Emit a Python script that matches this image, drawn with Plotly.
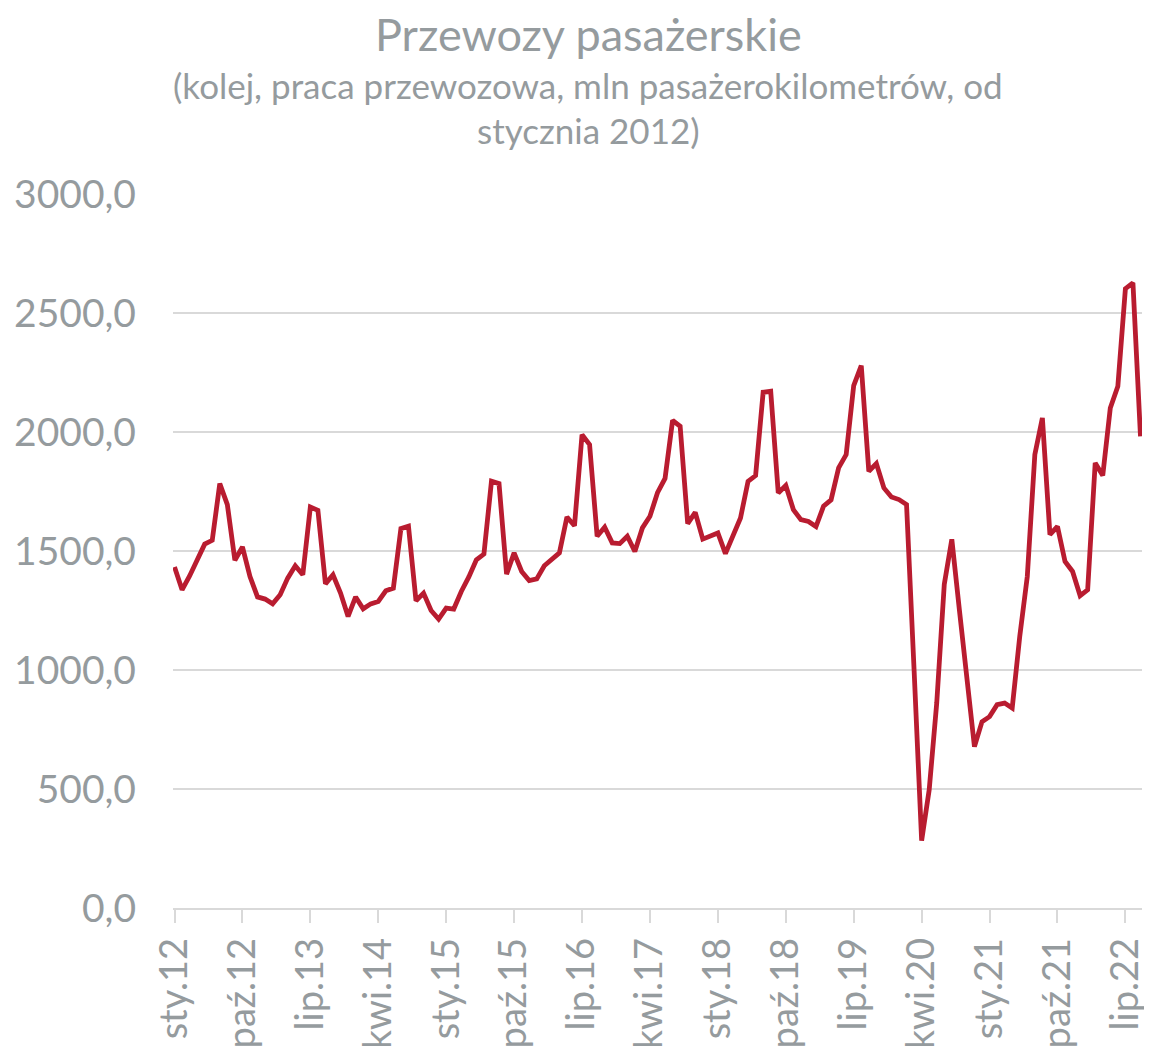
import plotly.graph_objects as go

# Polish month abbreviations (Excel style)
month_abbr = ["sty", "lut", "mar", "kwi", "maj", "cze", "lip", "sie", "wrz", "paź", "lis", "gru"]
years = list(range(12, 23))
categories = [f"{m}.{y:02d}" for y in years for m in month_abbr][:129]  # sty.12 .. wrz.22

# mln passenger-km, monthly from January 2012
values = [
    1433, 1337, 1395, 1459, 1529, 1545, 1783, 1695, 1461, 1517, 1393, 1307,   # 2012
    1298, 1278, 1316, 1386, 1438, 1400, 1685, 1671, 1362, 1400, 1323, 1225,   # 2013
    1307, 1257, 1278, 1288, 1333, 1344, 1594, 1604, 1291, 1323, 1250, 1214,   # 2014
    1260, 1256, 1330, 1391, 1463, 1487, 1793, 1783, 1403, 1492, 1414, 1376,   # 2015
    1383, 1438, 1466, 1492, 1643, 1606, 1989, 1947, 1562, 1600, 1534, 1531,   # 2016
    1562, 1498, 1597, 1646, 1745, 1805, 2049, 2024, 1615, 1662, 1550, 1561,   # 2017
    1576, 1489, 1561, 1639, 1793, 1817, 2167, 2171, 1744, 1775, 1674, 1632,   # 2018
    1624, 1603, 1688, 1715, 1849, 1905, 2195, 2279, 1835, 1867, 1765, 1727,   # 2019
    1716, 1695, 1000, 283, 496, 861, 1360, 1549, 1253, 960, 678, 783,         # 2020
    804, 854, 861, 840, 1141, 1393, 1905, 2059, 1569, 1603, 1456, 1414,       # 2021
    1312, 1337, 1870, 1817, 2101, 2192, 2602, 2627, 1982,                     # 2022
]

tick_labels = ["sty.12", "paź.12", "lip.13", "kwi.14", "sty.15", "paź.15", "lip.16", "kwi.17",
               "sty.18", "paź.18", "lip.19", "kwi.20", "sty.21", "paź.21", "lip.22"]
y_ticks = [0, 500, 1000, 1500, 2000, 2500, 3000]
y_tick_text = ["0,0", "500,0", "1000,0", "1500,0", "2000,0", "2500,0", "3000,0"]

title = "Przewozy pasażerskie"
subtitle1 = "(kolej, praca przewozowa, mln pasażerokilometrów, od"
subtitle2 = "stycznia 2012)"

GRAY = "#959b9e"
GRID = "#d9d9d9"
LINE = "#b91c30"
FONT = "Lato"

# page body has an 8px margin: figure occupies screen px 8..1144 / 8..1046
OFF = 8
W, H = 1152 - 2 * OFF, 1046 - OFF
m_l, m_r, m_t, m_b = 173 - OFF, 2, 194 - OFF, (H + OFF) - 908
ph = H - m_t - m_b
pw = W - m_l - m_r


def py(screen_y):
    return (H - m_b - (screen_y - OFF)) / ph


def px(screen_x):
    return (screen_x - OFF - m_l) / pw


fig = go.Figure()
fig.add_trace(go.Scatter(
    x=categories, y=values, mode="lines",
    line=dict(color=LINE, width=4.8),
    hoverinfo="x+y", showlegend=False,
))

fig.update_layout(
    width=W, height=H,
    margin=dict(l=m_l, r=m_r, t=m_t, b=m_b, autoexpand=False),
    paper_bgcolor="white", plot_bgcolor="white",
    font=dict(family=FONT, color=GRAY),
    annotations=[
        dict(text=title, x=px(588), xref="paper", y=py(34), yref="paper",
             showarrow=False, xanchor="center", yanchor="middle",
             font=dict(family=FONT, size=45, color=GRAY)),
        dict(text=subtitle1, x=px(588), xref="paper", y=py(85), yref="paper",
             showarrow=False, xanchor="center", yanchor="middle",
             font=dict(family=FONT, size=35, color=GRAY)),
        dict(text=subtitle2, x=px(588), xref="paper", y=py(130), yref="paper",
             showarrow=False, xanchor="center", yanchor="middle",
             font=dict(family=FONT, size=35, color=GRAY)),
    ],
)

fig.update_xaxes(
    type="category",
    categoryorder="array", categoryarray=categories,
    range=[-0.2, 128.2],
    tickmode="array", tickvals=tick_labels, ticktext=tick_labels,
    tickangle=-90, automargin=False,
    ticks="outside", ticklen=13, tickcolor=GRID, tickwidth=1.5,
    showline=True, linecolor=GRID, linewidth=1.5,
    showgrid=False, zeroline=False,
    tickfont=dict(family=FONT, size=38, color=GRAY),
)
fig.update_yaxes(
    range=[0, 3000], automargin=False,
    tickmode="array", tickvals=y_ticks, ticktext=y_tick_text,
    showgrid=True, gridcolor=GRID, gridwidth=1.5,
    zeroline=False, showline=False,
    ticks="", ticklabelstandoff=36,
    tickfont=dict(family=FONT, size=39, color=GRAY),
)

fig.write_html("out.html")
